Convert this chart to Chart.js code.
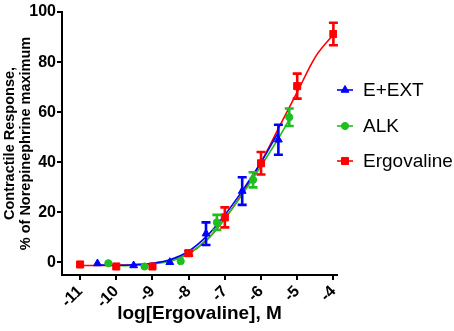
<!DOCTYPE html>
<html>
<head>
<meta charset="utf-8">
<script src="https://cdn.jsdelivr.net/npm/chart.js@4"></script>
<style>
  html, body { margin: 0; padding: 0; background: #fff; }
  #wrap { width: 454px; height: 331px; position: relative; }
</style>
</head>
<body>
<div id="wrap"><canvas id="doseChart"></canvas></div>
<script>
const seriesNames = ['E+EXT', 'ALK', 'Ergovaline'];
const seriesColors = ['#0000ff', '#1fbf1f', '#ff0000'];
const seriesMarkers = ['triangle', 'circle', 'rect'];

// mean response (% of NE max) and SEM at each log dose
const extDose = [-10.52, -9.52, -8.52, -7.52, -6.52, -5.52];
const extResp = [-0.4, -1.2, 0.1, 11.5, 28.5, 49];
const extErr = [0, 0, 0, 4.5, 5.5, 6];

const alkDose = [-10.22, -9.22, -8.22, -7.22, -6.22, -5.22];
const alkResp = [-0.3, -1.6, 0.5, 16, 33, 58];
const alkErr = [0, 0, 0, 3, 3, 3.5];

const ergDose = [-11, -10, -9, -8, -7, -6, -5, -4];
const ergResp = [-0.8, -1.6, -1.6, 3.7, 18, 39.6, 70.4, 91.2];
const ergErr = [0, 0, 0, 1, 4, 4.5, 5, 4.5];

// fitted curves
const extFitDose = [-10.52, -10, -9.5, -9, -8.5, -8, -7.5, -7, -6.5, -6, -5.52];
const extFitResp = [-0.9, -1.1, -0.9, -0.3, 1.2, 4.5, 10.5, 19, 29, 40, 52];

const alkFitDose = [-10.22, -9.5, -9, -8.5, -8, -7.5, -7, -6.5, -6, -5.5, -5.22];
const alkFitResp = [-1.3, -1.2, -0.6, 0.6, 3.5, 9, 17.5, 27.5, 38.5, 50, 57];

const ergFitDose = [-11, -10.5, -10, -9.5, -9, -8.5, -8, -7.5, -7, -6.5, -6, -5.5, -5, -4.5, -4];
const ergFitResp = [-1.2, -1.2, -1.1, -0.9, -0.4, 0.8, 3.5, 9, 17.5, 28, 40, 54, 68, 82, 91];

const xTicks = [-11, -10, -9, -8, -7, -6, -5, -4];
const yTicks = [0, 20, 40, 60, 80, 100];

const fontFamily = '"Liberation Sans", Arial, sans-serif';

const toXY = (xs, ys) => xs.map((x, i) => ({ x: x, y: ys[i] }));

const pointSets = [
  { dose: extDose, resp: extResp, err: extErr, radius: 4.5 },
  { dose: alkDose, resp: alkResp, err: alkErr, radius: 3.6 },
  { dose: ergDose, resp: ergResp, err: ergErr, radius: 5 }
];
const fitSets = [
  { dose: extFitDose, resp: extFitResp },
  { dose: alkFitDose, resp: alkFitResp },
  { dose: ergFitDose, resp: ergFitResp }
];

const datasets = [];
pointSets.forEach((s, i) => {
  datasets.push({
    type: 'scatter',
    label: seriesNames[i],
    data: toXY(s.dose, s.resp),
    errors: s.err,
    pointStyle: seriesMarkers[i],
    pointRadius: s.radius,
    pointBorderWidth: 1,
    backgroundColor: seriesColors[i],
    borderColor: seriesColors[i],
    showLine: false
  });
});
fitSets.forEach((s, i) => {
  datasets.push({
    type: 'line',
    label: seriesNames[i] + ' fit',
    data: toXY(s.dose, s.resp),
    borderColor: seriesColors[i],
    borderWidth: 1.6,
    pointRadius: 0,
    fill: false,
    cubicInterpolationMode: 'monotone'
  });
});

// vertical SEM bars with caps
const errorBars = {
  id: 'errorBars',
  afterDatasetsDraw(chart) {
    const ctx = chart.ctx;
    const xs = chart.scales.x, ys = chart.scales.y;
    chart.data.datasets.forEach((ds) => {
      if (!ds.errors) return;
      ctx.save();
      ctx.strokeStyle = ds.borderColor;
      ctx.lineWidth = 2.6;
      ds.data.forEach((p, j) => {
        const e = ds.errors[j];
        if (!e) return;
        const px = xs.getPixelForValue(p.x);
        const top = ys.getPixelForValue(p.y + e);
        const bot = ys.getPixelForValue(p.y - e);
        ctx.beginPath();
        ctx.moveTo(px, top); ctx.lineTo(px, bot);
        ctx.moveTo(px - 4.5, top); ctx.lineTo(px + 4.5, top);
        ctx.moveTo(px - 4.5, bot); ctx.lineTo(px + 4.5, bot);
        ctx.stroke();
      });
      ctx.restore();
    });
  }
};

// legend: short line with marker, then name
const sideLegend = {
  id: 'sideLegend',
  afterDraw(chart) {
    const ctx = chart.ctx;
    const x0 = chart.chartArea.right;
    const rows = [90, 126, 161];
    ctx.save();
    seriesNames.forEach((name, i) => {
      const y = rows[i];
      ctx.strokeStyle = seriesColors[i];
      ctx.fillStyle = seriesColors[i];
      ctx.lineWidth = 1.6;
      ctx.beginPath();
      ctx.moveTo(x0, y); ctx.lineTo(x0 + 16, y);
      ctx.stroke();
      ctx.lineWidth = 1;
      Chart.helpers.drawPoint(ctx, {
        pointStyle: seriesMarkers[i],
        radius: pointSets[i].radius,
        rotation: 0,
        borderWidth: 1
      }, x0 + 8, y);
      ctx.fillStyle = '#000';
      ctx.font = '19px ' + fontFamily;
      ctx.textBaseline = 'middle';
      ctx.fillText(name, x0 + 26, y + 1);
    });
    ctx.restore();
  }
};

new Chart(document.getElementById('doseChart'), {
  data: { datasets: datasets },
  plugins: [errorBars, sideLegend],
  options: {
    responsive: true,
    maintainAspectRatio: false,
    animation: false,
    layout: { padding: { top: 12, right: 117, bottom: 0, left: 0 } },
    plugins: {
      legend: { display: false },
      tooltip: { enabled: false }
    },
    scales: {
      x: {
        type: 'linear',
        min: -11.5,
        max: -3.9,
        afterBuildTicks: (scale) => { scale.ticks = xTicks.map(v => ({ value: v })); },
        afterFit: (scale) => { scale.height = 56; },
        border: { color: '#000', width: 2 },
        grid: { drawOnChartArea: false, drawTicks: true, tickLength: 5, color: '#000', lineWidth: 2 },
        ticks: {
          color: '#000',
          minRotation: 45,
          maxRotation: 45,
          padding: 2,
          font: { family: fontFamily, size: 16, weight: 'bold' }
        },
        title: {
          display: true,
          text: 'log[Ergovaline], M',
          color: '#000',
          padding: { top: 0, bottom: 6 },
          font: { family: fontFamily, size: 19, weight: 'bold' }
        }
      },
      y: {
        type: 'linear',
        min: -5,
        max: 100,
        afterBuildTicks: (scale) => { scale.ticks = yTicks.map(v => ({ value: v })); },
        afterFit: (scale) => { scale.width = 62; },
        border: { color: '#000', width: 2 },
        grid: { drawOnChartArea: false, drawTicks: true, tickLength: 5, color: '#000', lineWidth: 2 },
        ticks: {
          color: '#000',
          padding: 1,
          font: { family: fontFamily, size: 16, weight: 'bold' }
        },
        title: {
          display: true,
          text: ['Contractile Response,', '% of Norepinephrine maximum'],
          color: '#000',
          padding: { top: 2, bottom: 0 },
          font: { family: fontFamily, size: 14.5, weight: 'bold', lineHeight: 1.1 }
        }
      }
    }
  }
});
</script>
</body>
</html>
